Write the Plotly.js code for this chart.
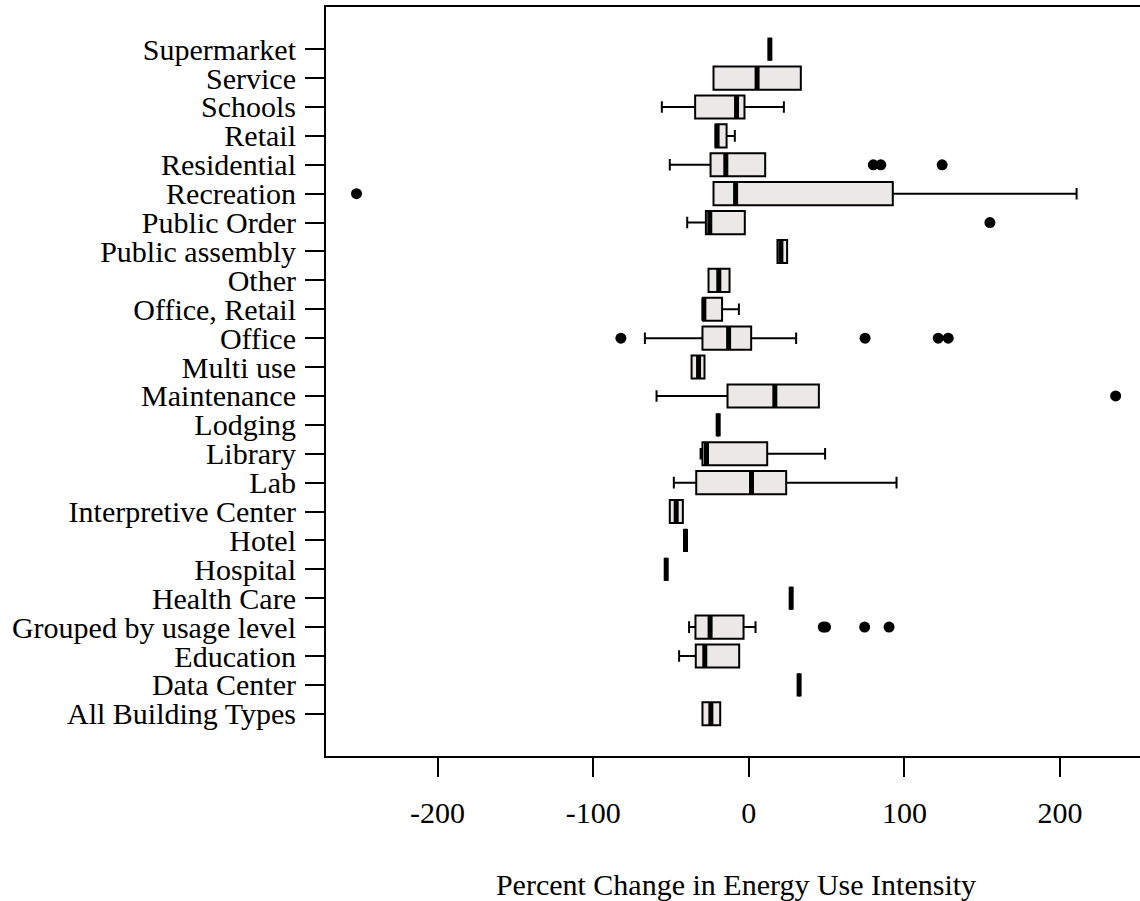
<!DOCTYPE html>
<html><head><meta charset="utf-8">
<script src="https://cdn.plot.ly/plotly-3.0.1.min.js"></script>
<style>html,body{margin:0;padding:0;overflow:hidden;background:#fff}</style>
</head><body>
<div id="chart" style="width:1150px;height:901px"></div>
<script>
// categories bottom (position 1) to top (position 24)
const categories = ["All Building Types","Data Center","Education","Grouped by usage level","Health Care","Hospital","Hotel","Interpretive Center","Lab","Library","Lodging","Maintenance","Multi use","Office","Office, Retail","Other","Public assembly","Public Order","Recreation","Residential","Retail","Schools","Service","Supermarket"];
const lowerWhisker = [-29.8, 32.3, -44.8, -38.4, 27.2, -53.1, -40.7, -50.8, -48.2, -31.0, -19.7, -59.3, -36.8, -66.8, -29.4, -25.9, 18.4, -39.6, -22.7, -50.8, -21.4, -55.9, -22.7, 13.5];
const q1Values     = [-29.8, 32.3, -34.1, -34.3, 27.2, -53.1, -40.7, -50.8, -33.8, -29.8, -19.7, -13.7, -36.8, -29.8, -29.4, -25.9, 18.4, -27.6, -22.7, -24.6, -21.4, -34.5, -22.7, 13.5];
const medianValues = [-24.4, 32.3, -28.3, -24.9, 27.2, -53.1, -40.7, -46.7, 1.7, -27.2, -19.7, 16.7, -32.3, -13.0, -28.9, -19.3, 20.6, -25.1, -8.5, -14.8, -20.4, -7.9, 5.3, 13.5];
const q3Values     = [-18.4, 32.3, -6.2, -3.4, 27.2, -53.1, -40.7, -42.4, 24.0, 11.8, -19.7, 45.0, -28.5, 1.5, -17.2, -12.4, 24.6, -2.6, 92.5, 10.5, -14.3, -2.8, 33.4, 13.5];
const upperWhisker = [-18.4, 32.3, -6.2, 4.3, 27.2, -53.1, -40.7, -42.4, 94.9, 49.0, -19.7, 45.0, -28.5, 30.4, -6.4, -12.4, 24.6, -2.6, 210.6, 10.5, -9.0, 22.5, 33.4, 13.5];
// outliers: category name and value
const outlierCategory = ["Grouped by usage level","Grouped by usage level","Grouped by usage level","Grouped by usage level","Maintenance","Office","Office","Office","Office","Public Order","Recreation","Residential","Residential","Residential"];
const outlierValue = [47.8, 49.3, 74.4, 90.1, 235.7, -82.2, 74.7, 121.7, 128.1, 154.9, -252.1, 80.0, 84.8, 124.2];
const xTicks = [-200, -100, 0, 100, 200];

const positions = categories.map((c, i) => i + 1);
const font = {family: '"Liberation Serif", "Times New Roman", serif', size: 30, color: '#000'};

const boxTrace = {
  type: 'box', orientation: 'h', y: positions,
  q1: q1Values, median: medianValues, q3: q3Values,
  lowerfence: lowerWhisker, upperfence: upperWhisker,
  width: 0.8, whiskerwidth: 0.5, boxpoints: false,
  fillcolor: '#ece8e8', line: {color: '#000', width: 2},
  hoverinfo: 'skip', showlegend: false
};

const mx = [], my = [];
medianValues.forEach((m, i) => { mx.push(m, m, null); my.push(positions[i] - 0.4, positions[i] + 0.4, null); });
const medianTrace = {
  type: 'scatter', mode: 'lines', x: mx, y: my,
  line: {color: '#000', width: 5}, hoverinfo: 'skip', showlegend: false
};

const outlierTrace = {
  type: 'scatter', mode: 'markers',
  x: outlierValue, y: outlierCategory.map(c => categories.indexOf(c) + 1),
  marker: {color: '#000', size: 11, symbol: 'circle'}, hoverinfo: 'skip', showlegend: false
};

const layout = {
  width: 1150, height: 901,
  margin: {l: 326, r: 4, t: 7, b: 145},
  paper_bgcolor: '#fff', plot_bgcolor: '#fff',
  font: font, showlegend: false,
  xaxis: {
    range: [-271.7, 255.2], tickvals: xTicks, ticktext: xTicks.map(String),
    ticks: 'outside', ticklen: 19, tickwidth: 2, tickcolor: '#000',
    showline: true, linewidth: 2, linecolor: '#000', mirror: true,
    showgrid: false, zeroline: false, ticklabelstandoff: 10,
    tickfont: font,
    title: {text: 'Percent Change in Energy Use Intensity', font: font, standoff: 52}
  },
  yaxis: {
    range: [-0.46, 25.46], tickvals: positions, ticktext: categories,
    ticks: 'outside', ticklen: 19, tickwidth: 2, tickcolor: '#000',
    showline: true, linewidth: 2, linecolor: '#000', mirror: true,
    showgrid: false, zeroline: false, ticklabelstandoff: 3,
    tickfont: font
  }
};

Plotly.newPlot('chart', [boxTrace, medianTrace, outlierTrace], layout, {displayModeBar: false, staticPlot: true});
</script>
</body></html>
